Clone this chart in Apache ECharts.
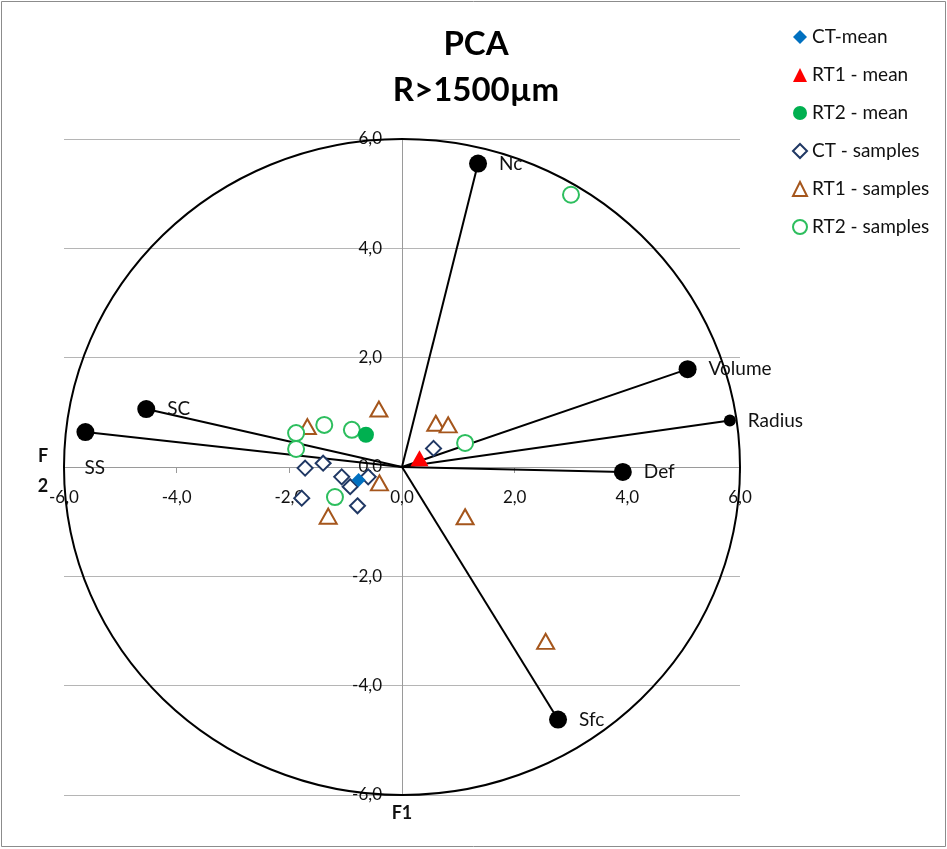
<!DOCTYPE html>
<html>
<head>
<meta charset="utf-8">
<script src="https://cdn.jsdelivr.net/npm/echarts@6/dist/echarts.min.js"></script>
<style>
html,body{margin:0;padding:0;background:#fff;}
#chart{width:947px;height:849px;}
</style>
</head>
<body>
<div id="chart"></div>
<script>
// ---- data ----
const varNames = ['Nc', 'Volume', 'Radius', 'Def', 'Sfc', 'SS', 'SC'];
const varF1 = [1.35, 5.07, 5.82, 3.92, 2.77, -5.62, -4.54];
const varF2 = [5.55, 1.79, 0.85, -0.09, -4.62, 0.64, 1.06];

const ctMean = [[-0.77, -0.24]];
const rt1Mean = [[0.31, 0.16]];
const rt2Mean = [[-0.64, 0.59]];
const ctSamples = [[-1.72, -0.02], [-1.40, 0.07], [-1.07, -0.18], [-0.92, -0.36], [-0.60, -0.18], [-1.78, -0.57], [-0.79, -0.71], [0.56, 0.34]];
const rt1Samples = [[-0.41, 1.06], [-1.68, 0.74], [0.60, 0.80], [0.82, 0.77], [-0.40, -0.29], [-1.31, -0.90], [1.12, -0.91], [2.55, -3.19]];
const rt2Samples = [[3.00, 4.98], [1.12, 0.44], [-1.88, 0.62], [-1.88, 0.33], [-1.38, 0.77], [-0.89, 0.68], [-1.19, -0.55]];

const seriesNames = ['CT-mean', 'RT1 - mean', 'RT2 - mean', 'CT - samples', 'RT1 - samples', 'RT2 - samples'];
const circleRadius = 6;

// ---- styling (not data) ----
const FONT = 'Lato, "Open Sans", sans-serif';
const GRID = {left: 64, top: 139, width: 676, height: 656};
const varSymbolSize = {Radius: 12};
const varLabelPos = {SS: {position: [8, 45], align: 'left', verticalAlign: 'middle'}};

const fmt = v => v.toFixed(1).replace('.', ',');

const chart = echarts.init(document.getElementById('chart'), null, {renderer: 'canvas'});

const vectorSeries = varNames.map((n, i) => ({
  type: 'line',
  name: 'vec_' + n,
  data: [[0, 0], [varF1[i], varF2[i]]],
  symbol: 'none',
  lineStyle: {color: '#000', width: 2},
  silent: true,
  z: 3,
  animation: false
}));

const varPoints = varNames.map((n, i) => {
  const lp = varLabelPos[n] || {position: 'right', distance: 12};
  return {
    name: n,
    value: [varF1[i], varF2[i]],
    symbolSize: varSymbolSize[n] || 18,
    label: Object.assign({show: true, formatter: n}, lp)
  };
});

const option = {
  animation: false,
  backgroundColor: '#fff',
  textStyle: {fontFamily: FONT},
  grid: Object.assign({containLabel: false}, GRID),
  legend: {
    orient: 'vertical',
    left: 787,
    top: 22,
    itemWidth: 14,
    itemHeight: 14,
    itemGap: 18,
    data: seriesNames,
    textStyle: {fontFamily: FONT, fontSize: 19, color: '#111', lineHeight: 20},
    selectedMode: false
  },
  xAxis: {
    type: 'value',
    min: -6, max: 6, interval: 2,
    axisLine: {onZero: false, lineStyle: {color: '#9a9a9a', width: 1}},
    axisTick: {show: true, length: 6, lineStyle: {color: '#9a9a9a'}},
    axisLabel: {formatter: fmt, fontSize: 17, color: '#111', margin: 22, fontFamily: FONT, showMinLabel: true, showMaxLabel: true},
    splitLine: {show: false}
  },
  yAxis: {
    type: 'value',
    min: -6, max: 6, interval: 2,
    axisLine: {onZero: false, lineStyle: {color: '#9a9a9a', width: 1}},
    axisTick: {show: false},
    axisLabel: {formatter: fmt, fontSize: 17, color: '#111', margin: 20, fontFamily: FONT, showMinLabel: true, showMaxLabel: true},
    splitLine: {show: true, lineStyle: {color: '#b5b5b5', width: 1}}
  },
  graphic: [
    {type: 'rect', shape: {x: 1.5, y: 1.5, width: 944, height: 845}, style: {fill: null, stroke: '#8c8c8c', lineWidth: 1}, silent: true, z: 100},
    {type: 'text', x: 476, y: 44, style: {text: 'PCA', font: 'bold 33px ' + FONT, fill: '#000', textAlign: 'center', textVerticalAlign: 'middle'}},
    {type: 'text', x: 476, y: 90, style: {text: 'R>1500µm', font: 'bold 33px ' + FONT, fill: '#000', textAlign: 'center', textVerticalAlign: 'middle'}},
    {type: 'text', x: 402, y: 813, style: {text: 'F1', font: 'bold 18px ' + FONT, fill: '#111', textAlign: 'center', textVerticalAlign: 'middle'}},
    {type: 'text', x: 43, y: 456, style: {text: 'F', font: 'bold 18px ' + FONT, fill: '#111', textAlign: 'center', textVerticalAlign: 'middle'}},
    {type: 'text', x: 43, y: 486, style: {text: '2', font: 'bold 18px ' + FONT, fill: '#111', textAlign: 'center', textVerticalAlign: 'middle'}}
  ],
  series: [
    {
      type: 'custom',
      name: 'circle',
      silent: true,
      clip: false,
      z: 1,
      data: [[0, 0]],
      renderItem: function (params, api) {
        const c = api.coord([0, 0]);
        const ex = api.coord([circleRadius, 0]);
        const ey = api.coord([0, circleRadius]);
        return {
          type: 'ellipse',
          shape: {cx: c[0], cy: c[1], rx: ex[0] - c[0], ry: c[1] - ey[1]},
          style: {fill: null, stroke: '#000', lineWidth: 2}
        };
      }
    },
    ...vectorSeries,
    {
      type: 'scatter',
      name: 'variables',
      data: varPoints,
      symbol: 'circle',
      itemStyle: {color: '#000', opacity: 1},
      label: {fontSize: 19, color: '#111', fontFamily: FONT},
      z: 4
    },
    {
      type: 'scatter', name: 'CT - samples', data: ctSamples, symbol: 'diamond', symbolSize: 15,
      itemStyle: {color: '#fff', borderColor: '#203864', borderWidth: 2, opacity: 1}, z: 5
    },
    {
      type: 'scatter', name: 'RT1 - samples', data: rt1Samples, symbol: 'triangle', symbolSize: [17, 15],
      itemStyle: {color: '#fff', borderColor: '#A5561C', borderWidth: 2, opacity: 1}, z: 5
    },
    {
      type: 'scatter', name: 'RT2 - samples', data: rt2Samples, symbol: 'circle', symbolSize: 16,
      itemStyle: {color: '#fff', borderColor: '#2DBE5E', borderWidth: 2, opacity: 1}, z: 5
    },
    {
      type: 'scatter', name: 'CT-mean', data: ctMean, symbol: 'diamond', symbolSize: 14,
      itemStyle: {color: '#0070C0', opacity: 1}, z: 6
    },
    {
      type: 'scatter', name: 'RT1 - mean', data: rt1Mean, symbol: 'triangle', symbolSize: [18, 16],
      itemStyle: {color: '#FF0000', opacity: 1}, z: 6
    },
    {
      type: 'scatter', name: 'RT2 - mean', data: rt2Mean, symbol: 'circle', symbolSize: 16,
      itemStyle: {color: '#00B050', opacity: 1}, z: 6
    }
  ]
};

chart.setOption(option);

// Move both axes so they cross at the origin (Excel-style), using the chart's own scales.
const origin = chart.convertToPixel({gridIndex: 0}, [0, 0]);
const gridBottom = GRID.top + GRID.height;
chart.setOption({
  xAxis: {offset: -(gridBottom - origin[1])},
  yAxis: {offset: -(origin[0] - GRID.left)}
});
</script>
</body>
</html>
